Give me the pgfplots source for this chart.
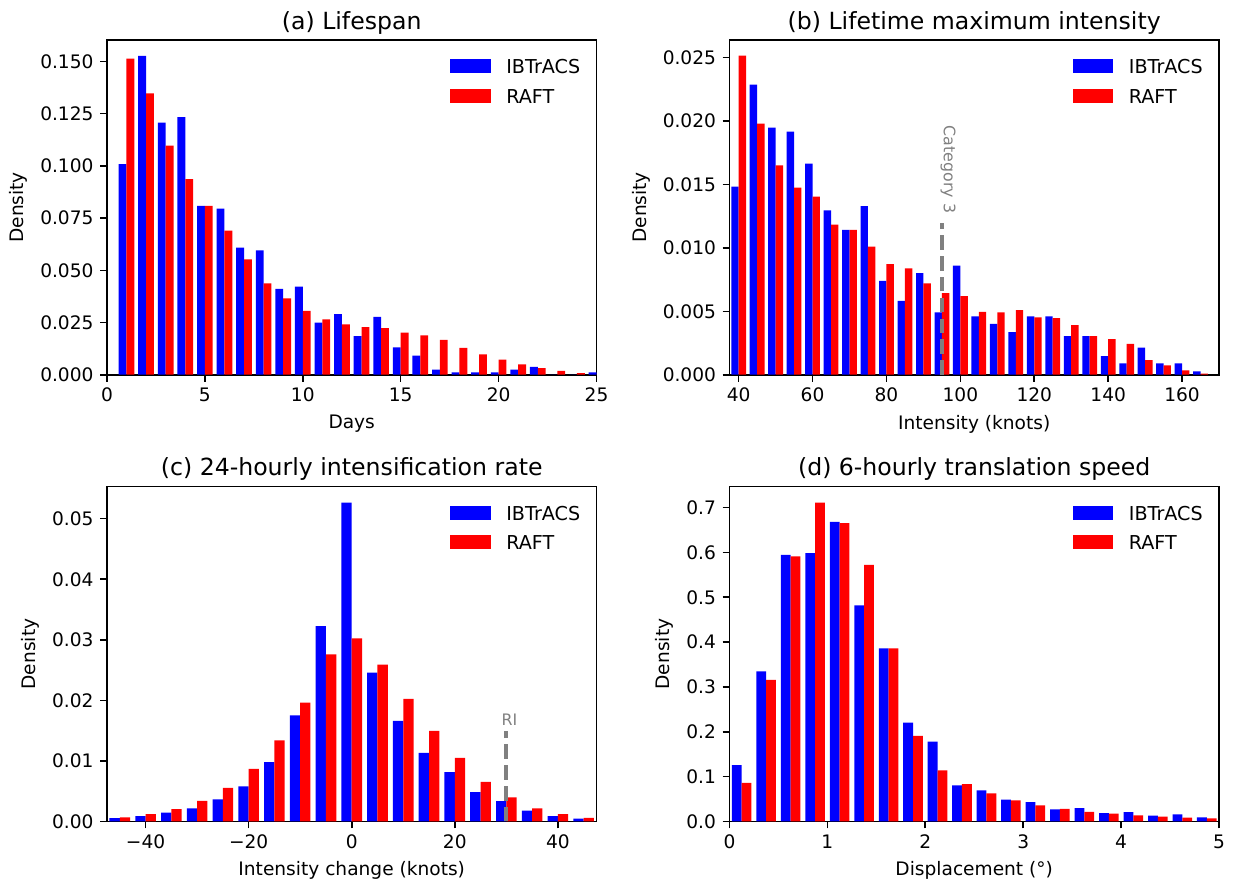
\documentclass[border=0pt]{standalone}
\usepackage{fontspec}
\setmainfont{DejaVu Sans}
\usepackage{pgfplots}
\usepackage{pgfplotstable}
\pgfplotsset{compat=1.18}
\usepgfplotslibrary{groupplots}

% bin centre, IBTrACS density, RAFT density
\pgfplotstableread{
x ib raft
1 0.1009 0.1513
2 0.1527 0.1347
3 0.1207 0.1097
4 0.1234 0.0937
5 0.0808 0.0808
6 0.0795 0.0690
7 0.0609 0.0552
8 0.0596 0.0437
9 0.0411 0.0365
10 0.0422 0.0306
11 0.0250 0.0265
12 0.0290 0.0241
13 0.0185 0.0228
14 0.0277 0.0223
15 0.0131 0.0202
16 0.0091 0.0188
17 0.0024 0.0167
18 0.0011 0.0128
19 0.0011 0.0097
20 0.0011 0.0072
21 0.0024 0.0049
22 0.0037 0.0032
23 0.0000 0.0018
24 0.0000 0.0008
25 0.0011 0.0005
}\lifespan

\pgfplotstableread{
x ib raft
40 0.01484 0.02516
45 0.02287 0.01980
50 0.01949 0.01650
55 0.01917 0.01476
60 0.01665 0.01405
65 0.01297 0.01184
70 0.01142 0.01142
75 0.01329 0.01011
80 0.00740 0.00872
85 0.00583 0.00838
90 0.00801 0.00720
95 0.00491 0.00643
100 0.00861 0.00620
105 0.00460 0.00496
110 0.00400 0.00491
115 0.00336 0.00510
120 0.00460 0.00452
125 0.00460 0.00446
130 0.00305 0.00391
135 0.00305 0.00305
140 0.00147 0.00281
145 0.00089 0.00244
150 0.00213 0.00116
155 0.00089 0.00074
160 0.00089 0.00034
165 0.00026 0.00008
}\lmi

\pgfplotstableread{
x ib raft
-45 0.00055 0.00066
-40 0.00088 0.00121
-35 0.00143 0.00203
-30 0.00214 0.00340
-25 0.00363 0.00555
-20 0.00577 0.00868
-15 0.00978 0.01340
-10 0.01753 0.01962
-5 0.03225 0.02758
0 0.05264 0.03022
5 0.02456 0.02588
10 0.01659 0.02022
15 0.01132 0.01495
20 0.00813 0.01050
25 0.00484 0.00654
30 0.00335 0.00396
35 0.00176 0.00214
40 0.00088 0.00121
45 0.00044 0.00060
}\irate

\pgfplotstableread{
x ib raft
0.125 0.1255 0.0861
0.375 0.3348 0.3155
0.625 0.5947 0.5910
0.875 0.5984 0.7112
1.125 0.6682 0.6652
1.375 0.4818 0.5724
1.625 0.3861 0.3861
1.875 0.2205 0.1908
2.125 0.1782 0.1136
2.375 0.0802 0.0831
2.625 0.0690 0.0624
2.875 0.0483 0.0468
3.125 0.0431 0.0356
3.375 0.0267 0.0282
3.625 0.0297 0.0215
3.875 0.0186 0.0171
4.125 0.0208 0.0134
4.375 0.0126 0.0104
4.625 0.0156 0.0082
4.875 0.0089 0.0067
}\tspeed

\tikzset{note/.style={gray, font=\fontsize{8.5}{10}\selectfont}}

\pgfplotsset{
  histo/.style={
    scale only axis, width=263.4pt, height=180.1pt,
    axis line style={line width=0.85pt},
    tick align=outside, xtick pos=bottom, ytick pos=left,
    major tick length=3.7pt,
    every tick/.style={black, line width=0.85pt},
    /pgf/number format/assume math mode=true,
    scaled y ticks=false, scaled x ticks=false,
    tick label style={font=\fontsize{10}{12}\selectfont},
    label style={font=\fontsize{10}{12}\selectfont},
    ymin=0, ylabel={Density},
    title style={font=\fontsize{12.7}{15}\selectfont, at={(0.5,1)}, anchor=base, yshift=-0.2pt},
    legend cell align=left,
    legend style={draw=none, fill=none, at={(1,1)}, anchor=north east,
      xshift=-8.8pt, yshift=-10.4pt, inner sep=0pt, outer sep=0pt,
      nodes={inner sep=0pt, outer sep=0pt},
      column sep=8.4pt, row sep=6.6pt,
      font=\fontsize{10.3}{12}\selectfont},
    legend image code/.code={\path[#1] (0pt,-2.8pt) rectangle (21.9pt,4.7pt);},
  },
  prec/.style={yticklabel style={/pgf/number format/fixed,
    /pgf/number format/fixed zerofill, /pgf/number format/precision=#1}},
  ib/.style={ybar, fill=blue, draw=none},
  rf/.style={ybar, fill=red, draw=none},
  catline/.style={gray, line width=2.1pt, dash pattern=on 7.8pt off 3.4pt},
}

\begin{document}
\begin{tikzpicture}
\begin{groupplot}[
  group style={group name=G, group size=2 by 2,
    horizontal sep=71.5pt, vertical sep=60.2pt},
  histo,
]
\nextgroupplot[title={(a) Lifespan}, xlabel={Days},
  xmin=0, xmax=25, ymax=0.1603,
  xtick={0,5,...,25}, ytick={0,0.025,...,0.151}, prec=3]
\addplot[ib, bar width=0.4, bar shift=-0.2] table[x=x, y=ib] {\lifespan};
\addplot[rf, bar width=0.4, bar shift=0.2] table[x=x, y=raft] {\lifespan};
\legend{IBTrACS, RAFT}

\nextgroupplot[title={(b) Lifetime maximum intensity}, xlabel={Intensity (knots)},
  xmin=37.5, xmax=170, ymax=0.0264,
  xtick={40,60,...,160}, ytick={0,0.005,...,0.0251}, prec=3]
\addplot[ib, bar width=2, bar shift=-1] table[x=x, y=ib] {\lmi};
\addplot[rf, bar width=2, bar shift=1] table[x=x, y=raft] {\lmi};
\legend{IBTrACS, RAFT}
\addplot[catline, forget plot] coordinates {(95,0) (95,0.012)};
\node[note, rotate=-90] at (axis cs:96.7,0.01618) {Category 3};

\nextgroupplot[title={(c) 24-hourly intensification rate}, xlabel={Intensity change (knots)},
  xmin=-47.5, xmax=47.5, ymax=0.0553,
  xtick={-40,-20,0,20,40}, xticklabels={−40,−20,0,20,40},
  ytick={0,0.01,...,0.051}, prec=2]
\addplot[ib, bar width=2, bar shift=-1] table[x=x, y=ib] {\irate};
\addplot[rf, bar width=2, bar shift=1] table[x=x, y=raft] {\irate};
\legend{IBTrACS, RAFT}
\addplot[catline, forget plot] coordinates {(30,0) (30,0.015)};
\node[note] at (axis cs:30.6,0.0168) {RI};

\nextgroupplot[title={(d) 6-hourly translation speed}, xlabel={Displacement (°)},
  xmin=0, xmax=5, ymax=0.7468,
  xtick={0,1,...,5}, ytick={0,0.1,...,0.71}, prec=1]
\addplot[ib, bar width=0.1, bar shift=-0.05] table[x=x, y=ib] {\tspeed};
\addplot[rf, bar width=0.1, bar shift=0.05] table[x=x, y=raft] {\tspeed};
\legend{IBTrACS, RAFT}
\end{groupplot}
\path ([xshift=-57.52pt, yshift=21.5pt]G c1r1.north west)
  rectangle ([xshift=10.21pt, yshift=-34.41pt]G c2r2.south east);
\end{tikzpicture}
\end{document}
